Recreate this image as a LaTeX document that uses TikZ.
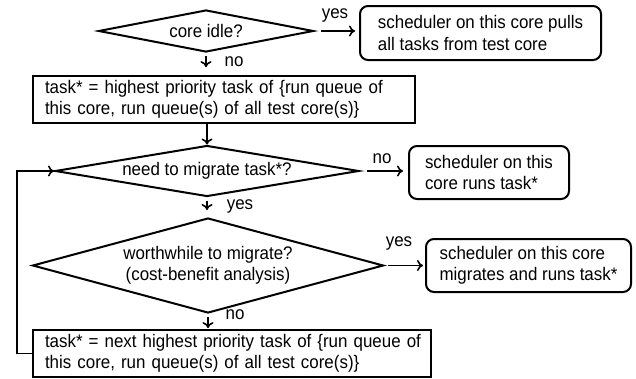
\documentclass[tikz,border=0pt]{standalone}
\usepackage{fontspec}
\setmainfont{Liberation Sans}[FakeStretch=0.93]
\usetikzlibrary{shapes.geometric,arrows.meta}
\begin{document}
\begin{tikzpicture}[x=1pt,y=-1pt,
  font=\fontsize{18.2}{21.5}\selectfont,
  dia/.style={draw,line width=2pt,shape=diamond,inner sep=0pt},
  dtext/.style={inner sep=0pt,align=center},
  rbox/.style={draw,line width=2pt,rounded corners=8pt,align=left,inner sep=0pt},
  sbox/.style={draw,line width=1.8pt,align=left,inner ysep=0pt,inner xsep=12pt,text width=358pt},
  arr/.style={line width=1.6pt,-{To[length=6pt,width=11pt]}},
  lbl/.style={inner sep=0pt}]
\useasboundingbox (0,0) rectangle (636,378);

% decisions
\node[dia,minimum width=215pt,minimum height=42pt] (d1) at (206,31) {};
\node[dtext] (d1t) at (d1) {core idle?};
\node[dia,minimum width=304pt,minimum height=51pt] (d2) at (207,171) {};
\node[dtext] (d2t) at (d2) {need to migrate task*?};
\node[dia,minimum width=351pt,minimum height=95pt] (d3) at (208,265.5) {};
\node[dtext] (d3t) at (d3) {worthwhile to migrate?\\(cost-benefit analysis)};

% rounded boxes
\node[rbox,minimum width=241pt,minimum height=54pt] (b1) at (480.5,33)
  {scheduler on this core pulls\\all tasks from test core};
\node[rbox,minimum width=160pt,minimum height=53pt] (b2) at (489,172.5)
  {scheduler on this\\core runs task*};
\node[rbox,minimum width=205pt,minimum height=53pt] (b3) at (528.5,265.5)
  {scheduler on this core\\migrates and runs task*};

% rectangles
\node[sbox,minimum height=47pt] (r2) at (224,99.5)
  {\mbox{task* = highest priority task of \{run queue of}\\\mbox{this core, run queue(s) of all test core(s)\}}};
\node[sbox,text width=374pt,minimum height=47pt] (r3) at (232,353.5)
  {\mbox{task* = next highest priority task of \{run queue of}\\\mbox{this core, run queue(s) of all test core(s)\}}};

% connectors
\draw[arr,shorten <=6pt,shorten >=4pt] (d1.east) -- (d1.east -| b1.west);
\draw[arr,shorten <=3pt,shorten >=8pt] (d1.south) -- (d1.south |- r2.north);
\draw[arr] (r2.south -| d2.north) -- (d2.north);
\draw[arr,shorten <=7pt,shorten >=5pt] (d2.east) -- (d2.east -| b2.west);
\draw[arr,shorten <=3pt,shorten >=7pt] (d2.south) -- (d2.south |- d3.north);
\draw[arr,shorten <=3pt,shorten >=2pt] (d3.east) -- (d3.east -| b3.west);
\draw[arr,shorten <=3pt,shorten >=1pt] (d3.south) -- (d3.south |- r3.north);
\draw[arr] (r3.west) -- ++(-15,0) |- (d2.west);

% labels
\node[lbl] (l1) at (335,15) {yes};
\node[lbl] (l2) at (234,62) {no};
\node[lbl] (l3) at (382,159) {no};
\node[lbl] (l4) at (240,206) {yes};
\node[lbl] (l5) at (399,243) {yes};
\node[lbl] (l6) at (235,315) {no};
\end{tikzpicture}
\end{document}
